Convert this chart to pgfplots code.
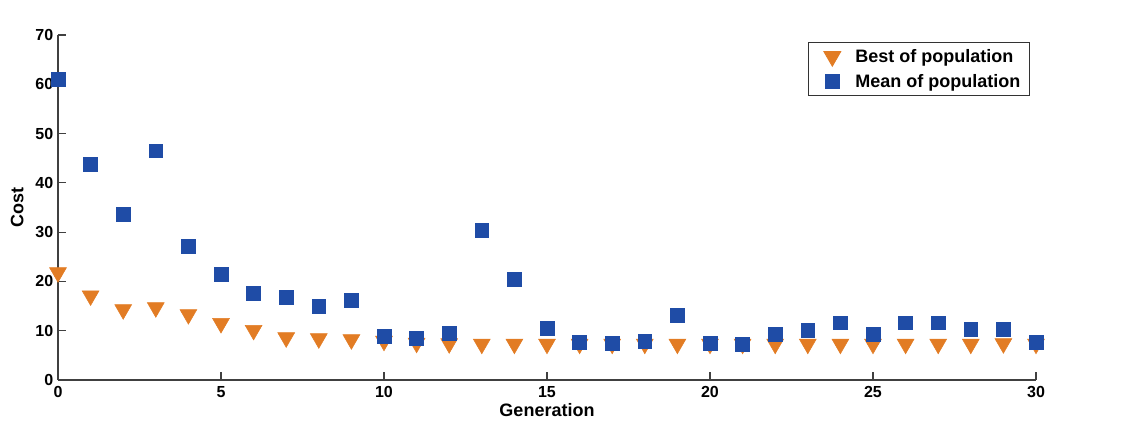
\documentclass[border=0pt]{standalone}
\usepackage{fontspec}
\setmainfont{Liberation Sans}
\usepackage{pgfplots}
\pgfplotsset{compat=1.18}
\definecolor{bestorange}{RGB}{226,124,36}
\definecolor{meanblue}{RGB}{31,76,166}

\begin{document}
\begin{tikzpicture}
% page = 1140x424 px at 0.75pt per px
\useasboundingbox (-43.5pt,-33pt) rectangle (811.5pt,285pt);
\begin{axis}[
    at={(0pt,0pt)}, anchor=south west,
    scale only axis,
    width=733.5pt, height=258.75pt,
    xmin=0, xmax=30, ymin=0, ymax=70,
    xtick={0,5,...,30}, ytick={0,10,...,70},
    axis lines=left,
    axis line style={-, black!75, line width=0.9pt},
    tick align=inside,
    major tick length=6pt,
    tick style={black!75, line width=0.8pt},
    clip=false,
    /pgf/number format/assume math mode=true,
    ticklabel style={font=\bfseries\fontsize{12}{14}\selectfont},
    xticklabel style={yshift=-1pt},
    xlabel={Generation}, ylabel={Cost},
    label style={font=\bfseries\fontsize{13.5}{15}\selectfont},
    xlabel style={yshift=2pt},
    ylabel style={yshift=2pt},
    legend style={at={(0.994,0.98)}, anchor=north east,
        draw=black!80, line width=0.6pt,
        font=\bfseries\fontsize{13.5}{15}\selectfont,
        row sep=3.5pt, inner xsep=5pt, inner ysep=3pt},
    legend image code/.code={
        \path (4pt,0pt);
        \begin{scope}[xshift=8pt]
        \draw[mark repeat=2, mark phase=2, #1]
            plot coordinates {(0cm,0cm) (0.3cm,0cm) (0.6cm,0cm)};
        \end{scope}},
    legend cell align=left,
    /tikz/every odd column/.append style={column sep=9pt},
]
\addplot[only marks, mark=triangle*, mark size=7.3pt,
    mark options={rotate=180, fill=bestorange, draw=bestorange}]
coordinates {
(0,21.8) (1,17.1) (2,14.3) (3,14.7) (4,13.3) (5,11.5) (6,10.1) (7,8.6)
(8,8.4) (9,8.2) (10,7.9) (11,7.5) (12,7.4) (13,7.3) (14,7.3) (15,7.3)
(16,7.3) (17,7.3) (18,7.3) (19,7.3) (20,7.3) (21,7.3) (22,7.3) (23,7.3)
(24,7.3) (25,7.3) (26,7.3) (27,7.3) (28,7.3) (29,7.4) (30,7.3)
};
\addlegendentry{Best of population}
\addplot[only marks, mark=square*, mark size=5.2pt,
    mark options={fill=meanblue, draw=meanblue}]
coordinates {
(0,61.1) (1,43.8) (2,33.7) (3,46.5) (4,27.2) (5,21.5) (6,17.6) (7,16.8)
(8,15.0) (9,16.2) (10,8.9) (11,8.5) (12,9.5) (13,30.4) (14,20.5) (15,10.5)
(16,7.7) (17,7.5) (18,7.9) (19,13.2) (20,7.5) (21,7.3) (22,9.3) (23,10.1)
(24,11.6) (25,9.3) (26,11.6) (27,11.6) (28,10.3) (29,10.3) (30,7.7)
};
\addlegendentry{Mean of population}
\end{axis}
\end{tikzpicture}
\end{document}
